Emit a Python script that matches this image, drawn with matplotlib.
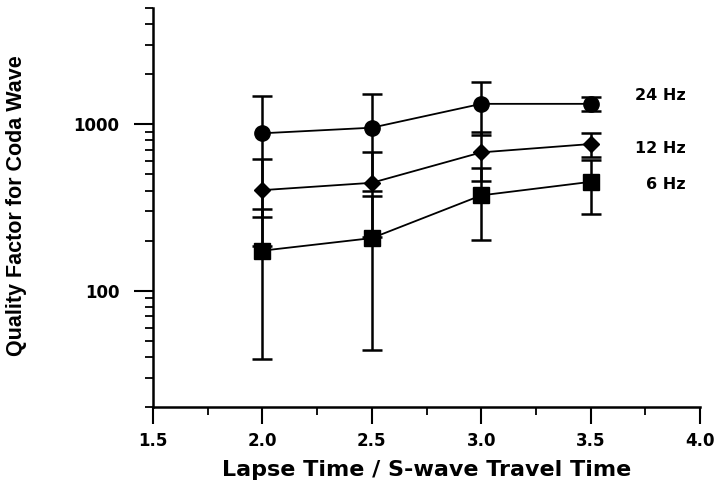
import numpy as np
import matplotlib
matplotlib.use("Agg")
import matplotlib.pyplot as plt
from matplotlib.ticker import FixedLocator, FixedFormatter, NullFormatter

# Lapse time / S-wave travel time
ratio = [2.0, 2.5, 3.0, 3.5]

# Coda Q and error (symmetric) per frequency band
q_24hz = [883, 954, 1327, 1327]
err_24hz = [605, 557, 460, 130]
q_12hz = [402, 445, 678, 761]
err_12hz = [216, 236, 222, 122]
q_6hz = [174, 207, 374, 451]
err_6hz = [135, 163, 172, 161]

band_labels = ["24 Hz", "12 Hz", "6 Hz"]
label_y = [1483, 716, 436]

y_major = [100, 1000]
y_minor = [20, 30, 40, 50, 60, 70, 80, 90, 200, 300, 400, 500, 600, 700, 800, 900,
           2000, 3000, 4000, 5000]
x_major = [1.5, 2.0, 2.5, 3.0, 3.5, 4.0]
x_minor = [1.75, 2.25, 2.75, 3.25, 3.75]

fig = plt.figure(figsize=(7.18, 4.87), dpi=100)
ax = fig.add_axes([0.2131, 0.1643, 0.762, 0.8193])

series = [
    (q_24hz, err_24hz, "o", 11),
    (q_12hz, err_12hz, "D", 8.5),
    (q_6hz, err_6hz, "s", 11),
]
for q, err, marker, ms in series:
    ax.errorbar(
        ratio, q, yerr=err,
        color="black", marker=marker, markersize=ms,
        linewidth=1.3, elinewidth=1.8, capsize=7, capthick=1.8,
    )

for lab, yv in zip(band_labels, label_y):
    ax.text(3.935, yv, lab, ha="right", va="center",
            fontsize=11.5, fontweight="heavy", family="DejaVu Sans")

ax.set_yscale("log")
ax.set_xlim(1.5, 4.0)
ax.set_ylim(20, 5000)

ax.yaxis.set_major_locator(FixedLocator(y_major))
ax.yaxis.set_major_formatter(FixedFormatter([str(v) for v in y_major]))
ax.yaxis.set_minor_locator(FixedLocator(y_minor))
ax.yaxis.set_minor_formatter(NullFormatter())
ax.xaxis.set_major_locator(FixedLocator(x_major))
ax.xaxis.set_minor_locator(FixedLocator(x_minor))
ax.set_xticklabels([f"{v:.1f}" for v in x_major])

for s in ["top", "right"]:
    ax.spines[s].set_visible(False)
for s in ["left", "bottom"]:
    ax.spines[s].set_linewidth(1.8)

ax.tick_params(axis="y", which="major", direction="out", length=14, width=1.5, pad=10)
ax.tick_params(axis="y", which="minor", direction="out", length=6, width=1.3)
ax.tick_params(axis="x", which="major", direction="out", length=12, width=1.5, pad=6)
ax.tick_params(axis="x", which="minor", direction="out", length=6, width=1.3)
for lbl in ax.get_xticklabels() + ax.get_yticklabels():
    lbl.set_fontweight("heavy")
    lbl.set_fontsize(12)
    lbl.set_family("DejaVu Sans")

ax.set_xlabel("Lapse Time / S-wave Travel Time", fontsize=16, fontweight="heavy",
              family="DejaVu Sans", labelpad=7)
ax.set_ylabel("Quality Factor for Coda Wave", fontsize=15.5, fontweight="bold",
              family=["Liberation Sans Narrow", "Liberation Sans"])
ax.yaxis.set_label_coords(-0.23, 0.505)

plt.savefig("out.png", dpi=100)
plt.close()
